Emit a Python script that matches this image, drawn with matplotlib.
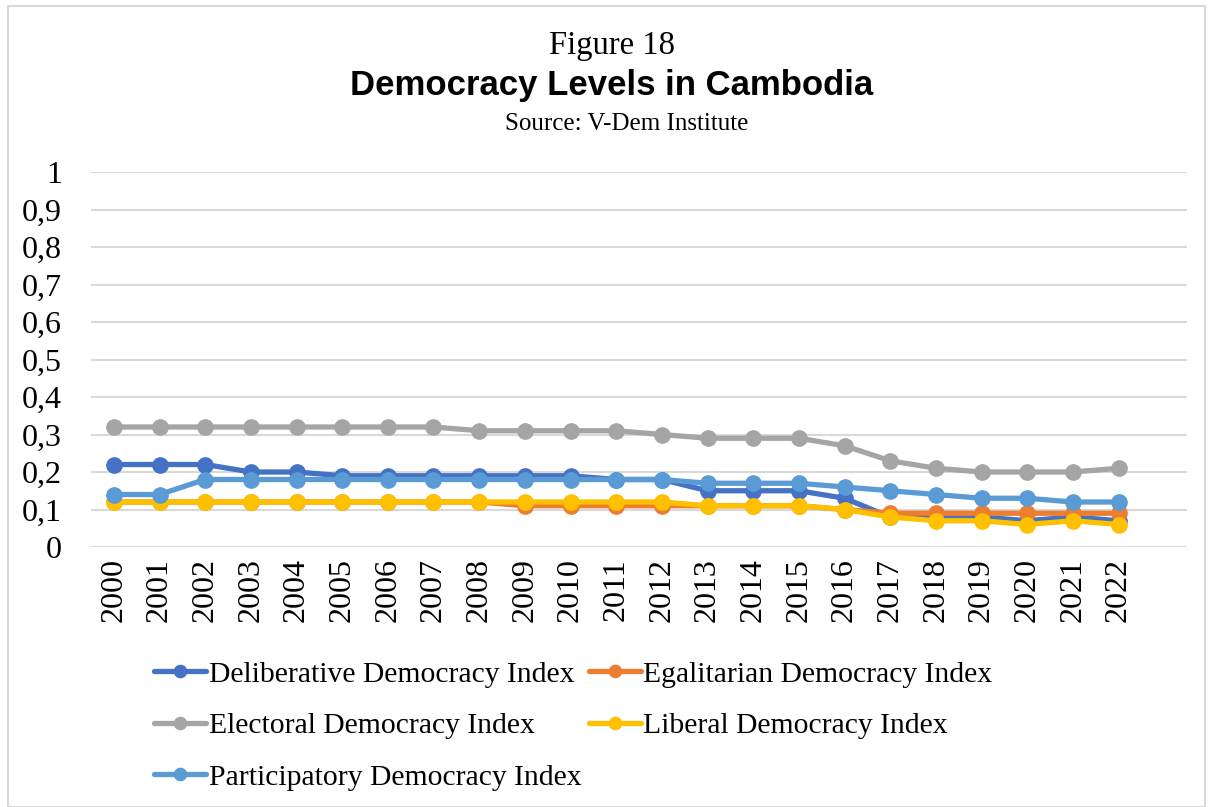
import matplotlib
matplotlib.use("Agg")
import matplotlib.pyplot as plt
from matplotlib.patches import Rectangle
from matplotlib.ticker import FuncFormatter

years = [str(y) for y in range(2000, 2023)]
deliberative = [0.22, 0.22, 0.22, 0.20, 0.20, 0.19, 0.19, 0.19, 0.19, 0.19, 0.19, 0.18,
                0.18, 0.15, 0.15, 0.15, 0.13, 0.08, 0.08, 0.08, 0.07, 0.08, 0.07]
egalitarian = [0.12, 0.12, 0.12, 0.12, 0.12, 0.12, 0.12, 0.12, 0.12, 0.11, 0.11, 0.11,
               0.11, 0.11, 0.11, 0.11, 0.10, 0.09, 0.09, 0.09, 0.09, 0.09, 0.09]
electoral = [0.32, 0.32, 0.32, 0.32, 0.32, 0.32, 0.32, 0.32, 0.31, 0.31, 0.31, 0.31,
             0.30, 0.29, 0.29, 0.29, 0.27, 0.23, 0.21, 0.20, 0.20, 0.20, 0.21]
liberal = [0.12, 0.12, 0.12, 0.12, 0.12, 0.12, 0.12, 0.12, 0.12, 0.12, 0.12, 0.12,
           0.12, 0.11, 0.11, 0.11, 0.10, 0.08, 0.07, 0.07, 0.06, 0.07, 0.06]
participatory = [0.14, 0.14, 0.18, 0.18, 0.18, 0.18, 0.18, 0.18, 0.18, 0.18, 0.18, 0.18,
                 0.18, 0.17, 0.17, 0.17, 0.16, 0.15, 0.14, 0.13, 0.13, 0.12, 0.12]

series = [
    ("Deliberative Democracy Index", deliberative, "#4472C4"),
    ("Egalitarian Democracy Index", egalitarian, "#ED7D31"),
    ("Electoral Democracy Index", electoral, "#A5A5A5"),
    ("Liberal Democracy Index", liberal, "#FFC000"),
    ("Participatory Democracy Index", participatory, "#5B9BD5"),
]

serif = ["Liberation Serif", "DejaVu Serif"]
W, H = 1213, 807
fig = plt.figure(figsize=(W / 100, H / 100), dpi=100)
fig.patch.set_facecolor("white")

# outer border
fig.add_artist(Rectangle((8 / W, 0), 1 - 16 / W, 1 - 6 / H, transform=fig.transFigure,
                         fill=False, edgecolor="#D9D9D9", linewidth=1.5))

left, right, top, bottom = 91, 1187, 172, 547
ax = fig.add_axes([left / W, 1 - bottom / H, (right - left) / W, (bottom - top) / H])

x = list(range(len(years)))
handles = {}
for name, vals, col in series:
    h, = ax.plot(x, vals, color=col, linewidth=3.8, marker="o", markersize=11,
                 markeredgecolor=col, markerfacecolor=col, label=name, zorder=3,
                 solid_capstyle="round", solid_joinstyle="round")
    handles[name] = h

ax.set_xlim(-0.5, 23.5)
ax.set_ylim(0, 1)
ax.set_yticks([i / 10 for i in range(11)])
ax.yaxis.set_major_formatter(FuncFormatter(
    lambda v, p: "0" if abs(v) < 1e-9 else ("1" if abs(v - 1) < 1e-9 else f"{v:.1f}".replace(".", ","))))
ax.set_xticks(x)
ax.set_xticklabels(years, rotation=90)
ax.grid(axis="y", color="#D9D9D9", linewidth=1.5, zorder=0)
ax.set_axisbelow(True)
for s in ax.spines.values():
    s.set_visible(False)
ax.tick_params(axis="both", length=0, labelsize=23)
ax.tick_params(axis="y", pad=21)
ax.tick_params(axis="x", pad=8)
for lab in ax.get_xticklabels() + ax.get_yticklabels():
    lab.set_fontfamily(serif)

fig.text(612 / W, 1 - 46 / H, "Figure 18", ha="center", va="center", fontsize=23.5,
         family=serif)
fig.text(612 / W, 1 - 86 / H, "Democracy Levels in Cambodia", ha="center", va="center",
         fontsize=25, fontweight="bold", family=["Liberation Sans Narrow", "Liberation Sans", "DejaVu Sans"])
fig.text(627 / W, 1 - 124 / H, "Source: V-Dem Institute", ha="center", va="center",
         fontsize=18, family=serif)

order = ["Deliberative Democracy Index", "Electoral Democracy Index",
         "Participatory Democracy Index", "Egalitarian Democracy Index",
         "Liberal Democracy Index"]
leg = fig.legend([handles[n] for n in order], order, ncol=2,
                 loc="upper left", bbox_to_anchor=(154 / W, 1 - 661 / H),
                 frameon=False, prop={"family": serif, "size": 21.3},
                 handlelength=1.75, handletextpad=0.1, columnspacing=0.25,
                 labelspacing=0.84, borderaxespad=0, borderpad=0, markerscale=0.8)

fig.savefig("out.png", dpi=100)
